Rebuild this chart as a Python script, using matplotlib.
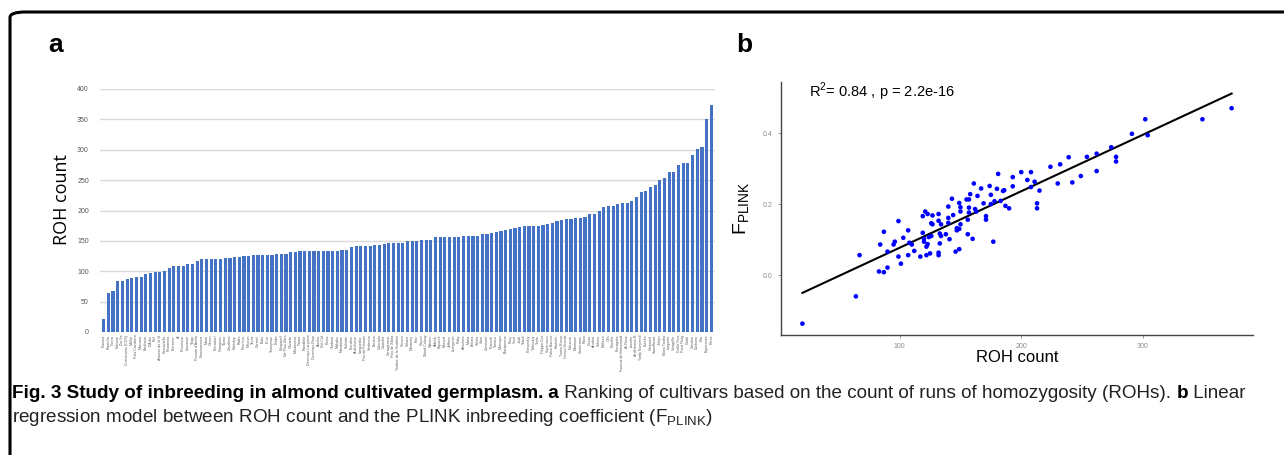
import numpy as np
import matplotlib
matplotlib.use("Agg")
import matplotlib.pyplot as plt
from matplotlib.patches import FancyBboxPatch

plt.rcParams['font.family'] = ['Liberation Sans', 'DejaVu Sans']
plt.rcParams['mathtext.fontset'] = 'custom'
plt.rcParams['mathtext.rm'] = 'Liberation Sans'

# ---- panel a : ROH count per cultivar (sorted) ----
roh_sorted = [21, 65, 68, 84, 84, 88, 89, 91, 91, 96, 97, 99, 99, 101, 105, 108, 108, 108, 112, 112,
              117, 120, 120, 120, 120, 120, 122, 122, 124, 124, 125, 125, 126, 127, 127, 127, 127, 128, 129, 129,
              132, 132, 134, 134, 134, 134, 134, 134, 134, 134, 134, 135, 135, 140, 141, 141, 141, 141, 143, 143,
              145, 146, 147, 147,
              147, 150, 150, 150, 151, 151, 151, 156, 157, 157, 157, 157, 157, 158, 158, 158, 158, 162, 162, 163,
              164, 166, 168, 169, 172, 173, 175, 175, 175, 175, 176, 178, 179, 183, 184, 186, 186, 187, 188, 189,
              194, 194, 200, 205, 208, 208, 211, 212, 212, 215, 223, 230, 232, 239, 242, 250, 254, 263, 263, 275,
              279, 279, 292, 302, 304, 350, 374]

cultivars = ["Planeta", "Pajarulla", "Cirera", "Falsone", "Zia Sa", "Cristomorto (COS)", "Mollar", "Pala Cavaliera", "Marcona", "Bonifacio",
             "D'Arbo", "Rof", "Antonio de la Vi", "Fascionello", "Pestaneta", "Ferrastar", "Aï", "Princesse", "Lauranne", "Tioga",
             "Pizzuta d'Avola", "Fourcouronne", "Mono", "Genco", "Ferraduel", "Garrigues", "Tuono", "Cavaliera", "Nikitskiy", "Padre",
             "Peerless", "Mission", "Texas", "Carmel", "Butte", "Price", "Thompson", "Drake", "Nonpareil", "Ne Plus Ultra",
             "Glorieta", "Masbovera", "Guara", "Ramillete", "Desmayo Largueta", "Desmayo Rojo", "Atocha", "Del Cid", "Penta", "Tardona",
             "Makako", "Mandaline", "Steliette", "Ferralise", "Ardechoise", "Languedoc", "Pou de Felanitx", "Verdereta", "Bertina", "Colorada",
             "Castelló", "Cartagenera", "Fina de Xàbia", "Tardive de la Verdière", "Sonora", "Solano", "Monterey", "Fritz", "Sauret", "Wood Colony",
             "Winters", "Aldrich", "Kapareil", "Merced", "Jeffries", "Livingston", "Ruby", "Antoñeta", "Marta", "Belona",
             "Soleta", "Vairo", "Constantí", "Francolí", "Tarraco", "Moncayo", "Blanquerna", "Ponç", "Vivot", "Jordi",
             "Totsol", "Primorskiy", "Yaltinskiy", "Troito", "Filippo Ceo", "Supernova", "Falsa Barese", "Rachele", "Tuono Rosso", "Genco Grande",
             "Catuccia", "Montrone", "Santeramo", "Rana", "Cossu", "Arrubia", "Schina", "Malissa", "Olla", "Nocella",
             "Ferragnès", "Fournat de Brézenaud", "Aï Rose", "Lonnée", "Ardéchoise B", "Tardy Nonpareil", "Eureka", "Harpareil", "Sweetheart", "Johlyn",
             "Mono Tardía", "Largueta", "Vinagrillo", "Doble Fina", "Pané Roig", "Garbí", "Cambra", "Corbona", "Fita", "Esperanza", "Pérez"]
cultivars = cultivars[:len(roh_sorted)]

# ---- panel b : ROH count vs F_PLINK ----
roh_x = [20, 64, 67, 83, 87, 84, 87, 90, 90, 95, 96, 99, 99, 101, 103, 107, 108, 107, 110, 112,
         117, 119, 119, 120, 120, 121, 122, 122, 123, 123, 124, 125, 126, 126, 127, 127, 132, 132, 132, 132,
         133, 133, 134, 134, 138, 140, 140, 140, 141, 143, 144, 146, 147, 147, 149, 149, 150, 150, 150, 149,
         155, 156, 156, 157, 157, 158, 157, 160, 161, 162, 163, 164, 167, 169, 171, 171, 174, 175, 175, 177,
         178, 181, 180, 183, 185, 186, 187, 190, 193, 193, 200, 205, 208, 208, 211, 213, 213, 215, 224, 230,
         232, 239, 242, 249, 254, 262, 262, 274, 278, 278, 291, 302, 304, 349, 373]
f_plink = [-0.137, -0.060, 0.056, 0.010, 0.008, 0.086, 0.122, 0.066, 0.021, 0.086, 0.094, 0.152, 0.052, 0.032, 0.105, 0.126, 0.091, 0.056, 0.086, 0.068,
           0.052, 0.119, 0.166, 0.102, 0.094, 0.179, 0.080, 0.056, 0.172, 0.087, 0.107, 0.061, 0.110, 0.146, 0.168, 0.143, 0.056, 0.063, 0.172, 0.153,
           0.117, 0.089, 0.143, 0.110, 0.115, 0.161, 0.193, 0.147, 0.101, 0.215, 0.169, 0.066, 0.132, 0.126, 0.073, 0.130, 0.143, 0.179, 0.191, 0.203,
           0.213, 0.115, 0.156, 0.176, 0.190, 0.228, 0.213, 0.102, 0.258, 0.186, 0.179, 0.223, 0.244, 0.202, 0.166, 0.156, 0.251, 0.226, 0.200, 0.094,
           0.208, 0.285, 0.243, 0.209, 0.237, 0.239, 0.195, 0.188, 0.250, 0.276, 0.290, 0.268, 0.290, 0.248, 0.263, 0.202, 0.188, 0.238, 0.305, 0.258,
           0.312, 0.332, 0.261, 0.279, 0.333, 0.342, 0.293, 0.360, 0.333, 0.320, 0.398, 0.439, 0.394, 0.439, 0.470]

fig = plt.figure(figsize=(12.84, 4.55), dpi=100)

# rounded frame around the whole figure
frame = FancyBboxPatch((10/1284, -0.2), 1.2, 1.2 - 12/455, boxstyle="round,pad=0,rounding_size=0.012",
                       transform=fig.transFigure, fill=False, ec='black', lw=2.2, clip_on=False)
fig.patches.append(frame)

# ---------- a ----------
axa = fig.add_axes([100/1284, 1-332/455, 615/1284, 243/455])
pos = np.arange(len(roh_sorted))
axa.bar(pos, roh_sorted, width=0.68, color='#4472C4', zorder=3)
axa.set_ylim(0, 400)
axa.set_xlim(-0.8, len(roh_sorted) - 0.2)
axa.set_yticks(np.arange(0, 401, 50))
axa.yaxis.grid(True, color='#D9D9D9', lw=1.0, zorder=0)
for s in axa.spines.values():
    s.set_visible(False)
axa.axhline(0, color='#D9D9D9', lw=1.0, zorder=2)
axa.tick_params(axis='y', length=0, labelsize=5, labelcolor='#595959', pad=8)
axa.set_xticks(pos)
axa.set_xticklabels(cultivars, rotation=90, fontsize=2.6, color='#595959')
axa.tick_params(axis='x', length=0, pad=2)
fig.text(62/1284, 1-200/455, 'ROH count', rotation=90, ha='center', va='center', fontsize=13,
         family=['Open Sans', 'DejaVu Sans'])
fig.text(48/1284, 1-45/455, 'a', fontsize=19, fontweight='bold', ha='left', va='center')

# ---------- b ----------
axb = fig.add_axes([781/1284, 1-335/455, 472/1284, 253/455])
axb.scatter(roh_x, f_plink, s=11, color='#0000FF', edgecolors='none', zorder=3)
slope, intercept = np.polyfit(roh_x, f_plink, 1)
xx = np.array([min(roh_x), max(roh_x)])
axb.plot(xx, intercept + slope * xx, color='black', lw=1.5, zorder=2)
axb.set_xlim(2.4, 390.6)
axb.set_ylim(-0.169, 0.544)
axb.set_xticks([100, 200, 300])
axb.set_yticks([0.0, 0.2, 0.4])
axb.set_yticklabels(['0.0', '0.2', '0.4'])
for side in ['top', 'right']:
    axb.spines[side].set_visible(False)
for side in ['left', 'bottom']:
    axb.spines[side].set_color('#444444')
    axb.spines[side].set_linewidth(1.0)
axb.tick_params(length=2.5, width=0.6, color='#888888', labelsize=5, labelcolor='#8c8c8c')
axb.set_xlabel('ROH count', fontsize=12, labelpad=0)
axb.set_ylabel(r'F$_{\mathrm{PLINK}}$', fontsize=14, labelpad=8)
axb.text(0.06, 1.005, r'R$^{2}$= 0.84 , p = 2.2e-16', transform=axb.transAxes, fontsize=10.5,
         ha='left', va='top')
fig.text(736/1284, 1-45/455, 'b', fontsize=19, fontweight='bold', ha='left', va='center')

# ---------- caption ----------
cap = ['Liberation Sans', 'DejaVu Sans']
fs = 13.6
t1 = fig.text(12/1284, 1-393/455, 'Fig. 3 Study of inbreeding in almond cultivated germplasm.',
              fontsize=fs, fontweight='bold', family=cap, va='center', ha='left')
t3 = plt.annotate(' a', xy=(1, 0.5), xycoords=t1, fontsize=fs, fontweight='bold', family=cap,
                  va='center', ha='left', annotation_clip=False)
t4 = plt.annotate(' Ranking of cultivars based on the count of runs of homozygosity (ROHs). ', xy=(1, 0.5),
                  xycoords=t3, fontsize=fs, family=cap, va='center', ha='left', color='#222222')
t5 = plt.annotate('b', xy=(1, 0.5), xycoords=t4, fontsize=fs, fontweight='bold', family=cap,
                  va='center', ha='left')
t6 = plt.annotate(' Linear', xy=(1, 0.5), xycoords=t5, fontsize=fs, family=cap, va='center', ha='left',
                  color='#222222')
fig.text(12/1284, 1-418/455, r'regression model between ROH count and the PLINK inbreeding coefficient (F$_{\mathrm{PLINK}}$)',
         fontsize=fs, family=cap, va='center', ha='left', color='#222222')

fig.savefig('out.png', dpi=100)
